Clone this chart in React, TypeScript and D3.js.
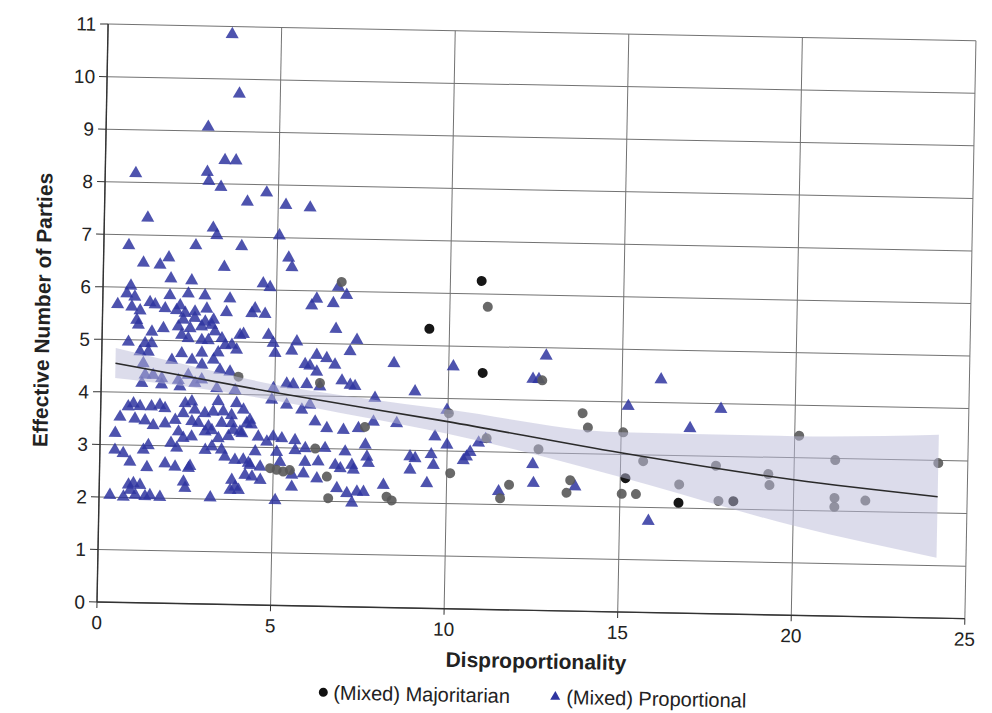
import * as d3 from 'd3';

// Scanned-page scatter: effective number of parties vs. disproportionality.
// The scan is slightly tilted, so the whole drawing is rotated by ~1.1deg.

const X_TICKS = [0, 5, 10, 15, 20, 25];
const Y_TICKS = [0, 1, 2, 3, 4, 5, 6, 7, 8, 9, 10, 11];

// (Mixed) Proportional systems — [disproportionality, effective no. of parties]
const PROPORTIONAL: [number, number][] = [
  [3.58, 10.85], [3.82, 9.72], [2.94, 9.08], [0.88, 8.17], [3.44, 8.45], [3.76, 8.45], [2.94, 8.22],
  [2.99, 8.05], [3.34, 7.94], [4.66, 7.85], [4.11, 7.67], [1.25, 7.33], [5.22, 7.62], [5.92, 7.58],
  [3.14, 7.16], [3.25, 7.02], [5.05, 7.04], [0.72, 6.8], [2.65, 6.82], [3.97, 6.82], [5.33, 6.62],
  [5.43, 6.44], [1.15, 6.47], [1.63, 6.44], [1.88, 6.58], [3.48, 6.42], [1.95, 6.18], [2.55, 6.15],
  [4.61, 6.12], [4.81, 6.05], [0.8, 6.03], [0.69, 5.88], [0.92, 5.82], [0.43, 5.67], [1.08, 5.56],
  [1.36, 5.72], [1.51, 5.68], [1.93, 5.86], [2.23, 5.67], [2.46, 5.9], [2.94, 5.87], [3.0, 5.62],
  [3.66, 5.82], [3.57, 5.56], [4.39, 5.64], [4.68, 5.54], [6.02, 5.72], [6.16, 5.85],
  [7.02, 5.93], [6.64, 5.77], [4.3, 5.55], [6.73, 5.28], [4.07, 5.15], [4.79, 5.14], [4.93, 4.99],
  [4.99, 4.8], [7.34, 5.08], [5.61, 5.03], [5.47, 4.85], [6.19, 4.78], [6.48, 4.72], [7.15, 4.86],
  [5.86, 4.6], [6.0, 4.57], [6.72, 4.6], [6.2, 4.46], [8.42, 4.65], [5.34, 4.22], [5.53, 4.21],
  [5.92, 4.22], [6.93, 4.3], [7.17, 4.22], [7.31, 4.2], [6.78, 6.08],
  [0.84, 5.63], [1.8, 5.61], [2.13, 5.58], [2.66, 5.56], [2.38, 5.53], [0.99, 5.38], [2.33, 5.4],
  [2.66, 5.44], [2.96, 5.37], [3.2, 5.41], [1.04, 5.29], [1.43, 5.16], [1.76, 5.23], [2.19, 5.27],
  [2.53, 5.24], [2.86, 5.28], [3.15, 5.31], [3.25, 5.19], [3.97, 5.13], [2.29, 5.11], [2.48, 5.05],
  [2.87, 5.02], [3.06, 5.02], [3.45, 5.06], [0.76, 4.96], [1.24, 4.94], [1.43, 4.94], [3.74, 4.94],
  [3.55, 4.93], [2.3, 4.76], [2.88, 4.78], [1.1, 4.78], [1.34, 4.78], [3.35, 4.79], [3.88, 4.85],
  [2.02, 4.63], [2.6, 4.64], [2.89, 4.55], [3.22, 4.65], [3.41, 4.46], [3.7, 4.43], [1.2, 4.56],
  [1.26, 4.34], [1.49, 4.34], [1.74, 4.28], [2.5, 4.35], [2.22, 4.25], [2.89, 4.27],
  [1.17, 4.18], [1.74, 4.16], [2.27, 4.13], [2.7, 4.2], [3.33, 4.11], [3.86, 4.08], [0.94, 3.79],
  [0.79, 3.73], [1.13, 3.74], [1.46, 3.74], [1.7, 3.77], [1.85, 3.71], [2.43, 3.81], [2.62, 3.85],
  [2.71, 3.69], [2.38, 3.62], [2.15, 3.49], [3.0, 3.63], [3.24, 3.66], [3.53, 3.67], [3.77, 3.6],
  [3.91, 3.83], [3.38, 3.86], [0.56, 3.53], [0.99, 3.5], [1.28, 3.47], [1.52, 3.38], [1.86, 3.42],
  [2.63, 3.47], [2.82, 3.44], [3.11, 3.38], [3.49, 3.45], [3.78, 3.45], [4.02, 3.29], [0.43, 3.22],
  [2.25, 3.27], [2.39, 3.15], [2.63, 3.18], [3.02, 3.28], [3.21, 3.31], [3.4, 3.16], [3.69, 3.2],
  [3.83, 3.32], [1.39, 3.0], [1.25, 2.91], [2.04, 3.05], [2.21, 2.96], [3.03, 2.93], [3.22, 3.0],
  [3.5, 2.94], [3.6, 2.81], [3.89, 2.75], [4.13, 2.76], [4.28, 2.7], [0.43, 2.9], [0.67, 2.84],
  [0.87, 2.68], [1.36, 2.58], [1.88, 2.66], [2.17, 2.6], [2.6, 2.62], [2.56, 2.58], [2.42, 2.32],
  [2.47, 2.2], [0.84, 2.24], [0.98, 2.27], [1.17, 2.24], [0.89, 2.14], [1.04, 2.05], [1.32, 2.03],
  [1.46, 2.05], [1.75, 2.02], [0.31, 2.04], [0.7, 2.01], [3.2, 2.03], [3.81, 2.37], [3.91, 2.24],
  [3.77, 2.18], [4.01, 2.18],
  [6.3, 4.18], [7.89, 3.98], [4.96, 4.13], [4.92, 3.91], [5.35, 3.82], [5.79, 3.73], [6.02, 3.83],
  [4.11, 3.71], [4.3, 3.52], [4.21, 3.45], [4.35, 3.43], [6.18, 3.51], [6.52, 3.39], [7.0, 3.36],
  [7.43, 3.4], [7.86, 3.53], [8.53, 3.51], [4.08, 3.26], [4.55, 3.2], [4.98, 3.21], [5.23, 3.18],
  [5.61, 3.15], [4.8, 3.11], [5.62, 2.96], [5.91, 3.0], [6.48, 3.01], [7.06, 2.95], [7.64, 3.09],
  [4.47, 2.92], [5.09, 2.92], [7.69, 2.86], [7.74, 2.74], [4.33, 2.66], [4.62, 2.63], [5.19, 2.73],
  [5.91, 2.74], [6.29, 2.75], [6.78, 2.69], [6.93, 2.63], [7.26, 2.7], [7.31, 2.61], [4.19, 2.47],
  [4.39, 2.44], [4.63, 2.38], [5.54, 2.49], [5.87, 2.52], [6.26, 2.43], [5.54, 2.26], [6.84, 2.25],
  [7.13, 2.16], [7.42, 2.19], [7.61, 2.19], [8.18, 2.33], [7.28, 1.98], [5.07, 2.0],
  [10.13, 4.61], [9.04, 4.12], [9.97, 3.78], [9.64, 3.27], [9.99, 3.12], [10.9, 3.17], [11.1, 3.24],
  [10.66, 2.99], [10.56, 2.9], [10.47, 2.83], [8.93, 2.88], [9.08, 2.85], [9.54, 2.93], [9.61, 2.73],
  [8.94, 2.63], [9.43, 2.38], [12.47, 2.78], [12.5, 2.42], [11.5, 2.25], [13.7, 2.37], [12.8, 4.85],
  [12.43, 4.4], [12.6, 4.4], [16.12, 4.44], [17.86, 3.9], [16.98, 3.52], [15.83, 1.74], [15.19, 3.92],
];

// (Mixed) Majoritarian systems, printed in two tones
const MAJORITARIAN_DARK: [number, number][] = [
  [10.9, 6.25], [9.42, 5.32], [10.98, 4.5], [15.15, 2.55], [16.69, 2.1], [18.27, 2.15],
];
const MAJORITARIAN_GRAY: [number, number][] = [
  [11.09, 5.76], [13.88, 3.77], [14.04, 3.5], [12.63, 3.07], [15.06, 3.42], [15.65, 2.88],
  [13.56, 2.49], [13.46, 2.25], [11.8, 2.38], [11.55, 2.12], [10.03, 3.72], [11.13, 3.26],
  [10.1, 2.58], [15.05, 2.25], [15.46, 2.25], [16.7, 2.45], [17.75, 2.82], [19.26, 2.68],
  [19.3, 2.47], [17.84, 2.15], [20.13, 3.42], [21.18, 2.97], [21.18, 2.25], [21.18, 2.08],
  [22.07, 2.21], [24.15, 2.95], [3.95, 4.34], [4.91, 2.61], [5.1, 2.58], [5.29, 2.55],
  [5.48, 2.58], [6.2, 3.0], [6.55, 2.47], [6.6, 2.06], [8.28, 2.11], [8.43, 2.04], [6.3, 4.25],
  [7.62, 3.43], [6.87, 6.18], [12.7, 4.38],
];

// fitted line and its confidence band
const TREND_X = [0.4, 5, 10, 15, 20, 24.15];
const TREND_Y = [4.55, 4.05, 3.56, 3.03, 2.58, 2.31];
const BAND_X = [0.4, 2.5, 5, 7.5, 10, 15, 20, 24.15];
const BAND_LO = [4.27, 4.13, 3.9, 3.62, 3.33, 2.57, 1.71, 1.15];
const BAND_HI = [4.84, 4.54, 4.2, 3.98, 3.79, 3.42, 3.41, 3.49];

const WIDTH = 992;
const HEIGHT = 713;
const ORIGIN = { x: 97, y: 602 };
const PLOT_W = 868;
const PLOT_H = 578;
const TILT = 1.1;
const FONT = 'Liberation Sans, Arial, Helvetica, sans-serif';

export default function App() {
  const x = d3.scaleLinear().domain([0, 25]).range([0, PLOT_W]);
  const y = d3.scaleLinear().domain([0, 11]).range([PLOT_H, 0]);

  const triPath = d3.symbol().type(d3.symbolTriangle).size(74)() ?? '';
  const legendTri = d3.symbol().type(d3.symbolTriangle).size(44)() ?? '';

  const trendLine = d3
    .line<number>()
    .x((d) => x(d))
    .y((_, i) => y(TREND_Y[i]))
    .curve(d3.curveMonotoneX)(TREND_X) ?? '';

  const bandArea = d3
    .area<number>()
    .x((d) => x(d))
    .y0((_, i) => y(BAND_LO[i]))
    .y1((_, i) => y(BAND_HI[i]))
    .curve(d3.curveMonotoneX)(BAND_X) ?? '';

  return (
    <svg
      width={WIDTH}
      height={HEIGHT}
      style={{ position: 'absolute', left: 0, top: 0, background: '#fff' }}
      fontFamily={FONT}
    >
      <g transform={`rotate(${TILT}, ${ORIGIN.x}, ${ORIGIN.y})`}>
        <g transform={`translate(${ORIGIN.x}, ${ORIGIN.y - PLOT_H})`}>
          {/* grid */}
          {Y_TICKS.map((t) => (
            <line key={`gy${t}`} x1={0} x2={PLOT_W} y1={y(t)} y2={y(t)} stroke="#727272" strokeWidth={1} />
          ))}
          {X_TICKS.map((t) => (
            <line key={`gx${t}`} x1={x(t)} x2={x(t)} y1={0} y2={PLOT_H} stroke="#727272" strokeWidth={1} />
          ))}

          {/* axes */}
          <line x1={0} x2={0} y1={0} y2={PLOT_H} stroke="#333" strokeWidth={1.4} />
          <line x1={0} x2={PLOT_W} y1={PLOT_H} y2={PLOT_H} stroke="#333" strokeWidth={1.4} />
          {Y_TICKS.map((t) => (
            <g key={`ty${t}`} transform={`translate(0, ${y(t)})`}>
              <line x1={-8} x2={0} stroke="#333" />
              <text x={-12} dy="0.36em" textAnchor="end" fontSize={19} fill="#222">
                {t}
              </text>
            </g>
          ))}
          {X_TICKS.map((t) => (
            <g key={`tx${t}`} transform={`translate(${x(t)}, ${PLOT_H})`}>
              <line y1={0} y2={6} stroke="#333" />
              <text y={27} textAnchor="middle" fontSize={19} fill="#222">
                {t}
              </text>
            </g>
          ))}

          {/* points */}
          {PROPORTIONAL.map(([dx, dy], i) => (
            <path
              key={`p${i}`}
              d={triPath}
              transform={`translate(${x(dx)}, ${y(dy)})`}
              fill="#2f35a0"
              fillOpacity={0.85}
            />
          ))}
          {MAJORITARIAN_GRAY.map(([dx, dy], i) => (
            <circle key={`mg${i}`} cx={x(dx)} cy={y(dy)} r={5} fill="#595959" fillOpacity={0.9} />
          ))}
          {MAJORITARIAN_DARK.map(([dx, dy], i) => (
            <circle key={`md${i}`} cx={x(dx)} cy={y(dy)} r={5} fill="#161616" />
          ))}

          {/* confidence band over the points, then fit line */}
          <path d={bandArea} fill="rgb(185,185,215)" fillOpacity={0.5} />
          <path d={trendLine} fill="none" stroke="#2a2a2a" strokeWidth={1.6} />
        </g>

        {/* axis titles */}
        <text
          transform="translate(37, 311) rotate(-90)"
          textAnchor="middle"
          dy="0.35em"
          fontSize={21}
          fontWeight="bold"
          fill="#222"
        >
          Effective Number of Parties
        </text>
        <text x={537} y={660} textAnchor="middle" fontSize={21} fontWeight="bold" fill="#222">
          Disproportionality
        </text>

        {/* legend */}
        <circle cx={325} cy={688} r={4.5} fill="#111" />
        <text x={335} y={688} dy="0.35em" fontSize={20} fill="#222">
          (Mixed) Majoritarian
        </text>
        <path d={legendTri} transform="translate(557, 688)" fill="#2f35a0" />
        <text x={568} y={688} dy="0.35em" fontSize={20} fill="#222">
          (Mixed) Proportional
        </text>
      </g>
    </svg>
  );
}
